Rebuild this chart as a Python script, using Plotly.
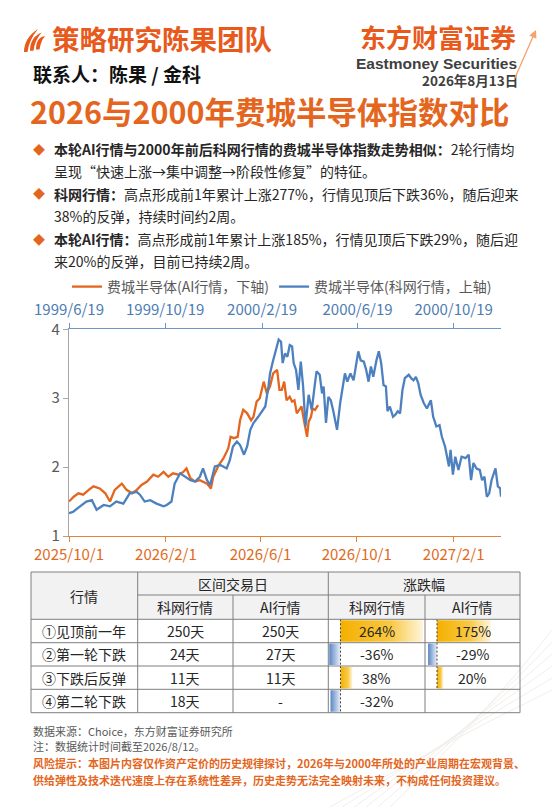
import plotly.graph_objects as go
import pandas as pd

W, H = 552, 807


def X(p):
    return p / W


def Y(p):
    return 1 - p / H


# ---------------- chart data ----------------
# AI行情 (bottom axis): calendar days since 2025-10-01 and index level
ai_start = "2025-10-01"
ai_days = [0, 6, 12, 18, 25, 31, 39, 46, 52, 58, 67, 73, 80, 86, 92, 99, 107, 113, 120, 126,
           132, 139, 145, 149, 154, 160, 166, 175, 180, 183, 190, 196, 202, 205, 209, 214, 217,
           221, 226, 231, 234, 238, 242, 247, 251, 255, 259, 264, 267, 270, 273, 276, 280, 283,
           286, 289, 292, 295, 298, 302, 304, 307, 309, 312, 316]
ai_vals = [1.50, 1.57, 1.62, 1.60, 1.67, 1.72, 1.69, 1.62, 1.50, 1.67, 1.76, 1.67, 1.62, 1.67,
           1.74, 1.79, 1.89, 1.86, 1.93, 1.86, 1.91, 1.89, 1.93, 1.98, 1.84, 1.79, 1.81, 1.76,
           1.69, 1.86, 2.03, 2.13, 2.27, 2.44, 2.42, 2.44, 2.68, 2.83, 2.78, 2.68, 2.73, 2.95,
           3.00, 3.24, 3.07, 3.17, 3.36, 3.41, 3.12, 3.12, 3.24, 2.97, 3.02, 2.95, 2.97, 2.78,
           2.83, 2.88, 2.68, 2.44, 2.66, 2.73, 2.85, 2.83, 2.90]

# 科网行情 (top axis): calendar days since 1999-06-19 and index level
kw_start = "1999-06-19"
kw_days = [0, 5, 14, 22, 29, 35, 44, 52, 60, 69, 77, 86, 90, 96, 103, 111, 120, 124, 130, 134,
           141, 147, 154, 160, 166, 170, 175, 179, 185, 192, 196, 200, 204, 208, 213, 217, 222,
           226, 230, 234, 240, 245, 249, 253, 255, 259, 264, 266, 269, 271, 274, 277, 280, 283,
           285, 288, 291, 294, 297, 300, 304, 308, 311, 314, 318, 321, 323, 326, 329, 332, 335,
           340, 344, 348, 350, 353, 357, 361, 364, 367, 370, 374, 377, 380, 383, 386, 390, 393,
           396, 399, 402, 404, 407, 411, 414, 417, 420, 423, 426, 431, 434, 437, 440, 443, 446,
           450, 454, 459, 462, 466, 470, 473, 477, 479, 482, 484, 487, 490, 494, 498, 503, 507,
           510, 513, 517, 521, 524, 527, 530, 533, 536, 541, 544, 547, 548]
kw_vals = [1.33, 1.35, 1.43, 1.50, 1.52, 1.38, 1.45, 1.43, 1.50, 1.47, 1.62, 1.64, 1.60, 1.50,
           1.52, 1.47, 1.43, 1.45, 1.50, 1.76, 1.91, 1.86, 1.81, 1.79, 1.86, 1.98, 1.81, 1.74,
           2.01, 2.03, 2.01, 1.98, 2.10, 2.30, 2.37, 2.32, 2.18, 2.30, 2.54, 2.64, 2.73, 2.81,
           2.88, 3.17, 3.36, 3.55, 3.75, 3.85, 3.82, 3.51, 3.65, 3.60, 3.77, 3.75, 3.51, 3.41,
           3.12, 3.53, 3.17, 2.59, 3.05, 2.83, 3.12, 3.39, 3.34, 3.07, 3.17, 2.64, 3.02, 2.97,
           2.83, 2.54, 2.93, 3.26, 3.36, 3.24, 3.36, 3.26, 3.51, 3.68, 3.55, 3.53, 3.41, 3.24,
           3.46, 3.31, 3.55, 3.68, 3.51, 3.19, 3.17, 2.81, 2.88, 2.73, 2.76, 2.81, 2.78, 3.12,
           3.29, 3.34, 3.29, 3.26, 3.31, 3.22, 3.05, 2.93, 2.85, 2.97, 2.73, 2.59, 2.61, 2.44,
           2.30, 2.20, 2.01, 2.25, 1.89, 2.15, 1.96, 2.15, 2.13, 2.18, 1.81, 2.06, 1.98, 1.96,
           1.81, 1.86, 1.57, 1.62, 1.81, 1.98, 1.72, 1.69, 1.57]

bottom_tickvals = ["2025-10-01", "2026-02-01", "2026-06-01", "2026-10-01", "2027-02-01"]
bottom_ticktext = ["2025/10/1", "2026/2/1", "2026/6/1", "2026/10/1", "2027/2/1"]
top_tickvals = ["1999-06-19", "1999-10-19", "2000-02-19", "2000-06-19", "2000-10-19"]
top_ticktext = ["1999/6/19", "1999/10/19", "2000/2/19", "2000/6/19", "2000/10/19"]
y_tickvals = [1, 2, 3, 4]

# ---------------- table data ----------------
row_labels = ["①见顶前一年", "②第一轮下跌", "③下跌后反弹", "④第二轮下跌"]
kw_trade_days = ["250天", "24天", "11天", "18天"]
ai_trade_days = ["250天", "27天", "11天", "-"]
kw_change = [264, -36, 38, -32]
ai_change = [175, -29, 20, None]

# ---------------- styles ----------------
FONT = "Noto Sans CJK SC"
ORANGE = "#E4661E"
BLUE = "#4C80BF"
HEAD_OR = "#E85A1C"
TXT = "#262626"
GRAY = "#595959"

fig = go.Figure()

kw_x = pd.Timestamp(kw_start) + pd.to_timedelta(kw_days, unit="D")
ai_x = pd.Timestamp(ai_start) + pd.to_timedelta(ai_days, unit="D")

fig.add_trace(go.Scatter(x=kw_x, y=kw_vals, xaxis="x2", yaxis="y", mode="lines",
                         line=dict(color=BLUE, width=2.3), name="费城半导体(科网行情，上轴)",
                         legendrank=2, hoverinfo="skip"))
fig.add_trace(go.Scatter(x=ai_x, y=ai_vals, xaxis="x", yaxis="y", mode="lines",
                         line=dict(color=ORANGE, width=2.3), name="费城半导体(AI行情，下轴)",
                         legendrank=1, hoverinfo="skip"))

# ---------------- table data bars ----------------
POS = [[0, "#F5B000"], [0.6, "#F8C842"], [1, "#FFF5DC"]]
NEG = [[0, "#5A86C6"], [1, "#EAF0F9"]]
for axis, vals in (("x3", kw_change), ("x4", ai_change)):
    dash_x, dash_y = [], []
    for i, v in enumerate(vals):
        if v is None:
            continue
        fig.add_trace(go.Scatter(
            x=[0, v, v, 0, 0], y=[i - 0.46, i - 0.46, i + 0.46, i + 0.46, i - 0.46],
            xaxis=axis, yaxis="y3", mode="lines", fill="toself", line=dict(width=0),
            fillgradient=dict(type="horizontal", colorscale=POS if v > 0 else NEG),
            showlegend=False, hoverinfo="skip"))
        dash_x += [0, 0, None]
        dash_y += [i - 0.5, i + 0.5, None]
    fig.add_trace(go.Scatter(x=dash_x, y=dash_y, xaxis=axis, yaxis="y3", mode="lines",
                             line=dict(color="#404040", width=1, dash="2px,2px"),
                             showlegend=False, hoverinfo="skip"))

# ---------------- table grid ----------------
cols = [31, 137.7, 233, 328.3, 425, 520]
rows = [572, 595, 619.3, 642.7, 666, 689.3, 712.7]
shapes = []
LC = "#7F7F7F"
shapes.append(dict(type="rect", xref="paper", yref="paper", x0=X(cols[0]), x1=X(cols[-1]),
                   y0=Y(rows[0]), y1=Y(rows[2]), fillcolor="#F2F2F2", line=dict(width=0),
                   layer="below"))
for ry in [rows[0]] + rows[2:]:
    shapes.append(dict(type="line", xref="paper", yref="paper", x0=X(cols[0]), x1=X(cols[-1]),
                       y0=Y(ry), y1=Y(ry), line=dict(color=LC, width=1)))
shapes.append(dict(type="line", xref="paper", yref="paper", x0=X(cols[1]), x1=X(cols[-1]),
                   y0=Y(rows[1]), y1=Y(rows[1]), line=dict(color=LC, width=1)))
for cx in [cols[0], cols[1], cols[3], cols[5]]:
    shapes.append(dict(type="line", xref="paper", yref="paper", x0=X(cx), x1=X(cx),
                       y0=Y(rows[0]), y1=Y(rows[-1]), line=dict(color=LC, width=1)))
for cx in [cols[2], cols[4]]:
    shapes.append(dict(type="line", xref="paper", yref="paper", x0=X(cx), x1=X(cx),
                       y0=Y(rows[1]), y1=Y(rows[-1]), line=dict(color=LC, width=1)))


# logo (three curved leaves)
def pth(points):
    s = "M %f,%f" % (X(points[0][0]), Y(points[0][1]))
    for k in range(1, len(points), 2):
        s += " Q %f,%f %f,%f" % (X(points[k][0]), Y(points[k][1]),
                                 X(points[k + 1][0]), Y(points[k + 1][1]))
    return s + " Z"


for dx in (0, 6, 12):
    shapes.append(dict(type="path", xref="paper", yref="paper",
                       path=pth([(24 + dx, 52 - dx * 0.2), (24 + dx, 38 - dx * 0.1),
                                 (38 + dx * 0.6, 29 + dx * 0.6),
                                 (29 + dx, 40), (27.5 + dx, 52 - dx * 0.2)]),
                       fillcolor=HEAD_OR, line=dict(width=0)))

# faint background decoration (light curves at lower right)
for k in range(6):
    shapes.append(dict(type="path", xref="paper", yref="paper", layer="below",
                       path="M %f,%f Q %f,%f %f,%f" % (X(330 + 12 * k), Y(807), X(450 + 8 * k), Y(740 - 6 * k),
                                                       X(552), Y(690 - 12 * k)),
                       line=dict(color="#F1EEEA", width=1)))

ann = []


def text(x, y, s, size, color=TXT, anchor="left", family=FONT):
    ann.append(dict(x=X(x), y=Y(y), xref="paper", yref="paper", text=s, showarrow=False,
                    xanchor=anchor, yanchor="middle",
                    font=dict(size=size, color=color, family=family)))


# header
text(50, 38, "<b>策略研究陈果团队</b>", 27.5, HEAD_OR)
text(31, 73, "<b>联系人：陈果 / 金科</b>", 19, "#111111")
text(518, 36.5, "<b>东方财富证券</b>", 26, HEAD_OR, "right")
text(519, 63.5, "<b>Eastmoney Securities</b>", 15.5, "#404040", "right", "Liberation Sans")
text(520, 80.5, "<b>2026年8月13日</b>", 13.5, "#404040", "right")
text(28, 111, "<b>2026与2000年费城半导体指数对比</b>", 30.5, ORANGE)
ann.append(dict(x=X(536), y=Y(30), xref="paper", yref="paper", text="", showarrow=True,
                ax=-22, ay=50, arrowcolor="#F4A36A", arrowwidth=1.3, arrowhead=2, arrowsize=1.2))

# bullets
BS = 14.0
bullets = [
    (149, "<b>本轮AI行情与2000年前后科网行情的费城半导体指数走势相似：</b>2轮行情均", True),
    (170.5, "呈现“快速上涨→集中调整→阶段性修复”的特征。", False),
    (194, "<b>科网行情：</b>高点形成前1年累计上涨277%，行情见顶后下跌36%，随后迎来", True),
    (215.5, "38%的反弹，持续时间约2周。", False),
    (239, "<b>本轮AI行情：</b>高点形成前1年累计上涨185%，行情见顶后下跌29%，随后迎", True),
    (260.5, "来20%的反弹，目前已持续2周。", False),
]
for by, s, dia in bullets:
    if dia:
        text(39, by, "◆", 12, ORANGE, "center")
    text(52, by, s, BS, TXT)

# table text
TS = 14
text((cols[0] + cols[1]) / 2, (rows[0] + rows[2]) / 2, "行情", TS, TXT, "center")
text((cols[1] + cols[3]) / 2, (rows[0] + rows[1]) / 2, "区间交易日", TS, TXT, "center")
text((cols[3] + cols[5]) / 2, (rows[0] + rows[1]) / 2, "涨跌幅", TS, TXT, "center")
for j, s in enumerate(["科网行情", "AI行情", "科网行情", "AI行情"]):
    text((cols[j + 1] + cols[j + 2]) / 2, (rows[1] + rows[2]) / 2, s, TS, TXT, "center")
for i in range(4):
    cy = (rows[i + 2] + rows[i + 3]) / 2
    text((cols[0] + cols[1]) / 2, cy, row_labels[i], TS, TXT, "center")
    text((cols[1] + cols[2]) / 2, cy, kw_trade_days[i], TS, TXT, "center")
    text((cols[2] + cols[3]) / 2, cy, ai_trade_days[i], TS, TXT, "center")
    text((cols[3] + cols[4]) / 2, cy, "%d%%" % kw_change[i], TS, TXT, "center")
    if ai_change[i] is not None:
        text((cols[4] + cols[5]) / 2, cy, "%d%%" % ai_change[i], TS, TXT, "center")

# footer
text(31, 731, "数据来源：Choice，东方财富证券研究所", 11, GRAY)
text(31, 746, "注：数据统计时间截至2026/8/12。", 11, GRAY)
text(31, 763, "<b>风险提示：本图片内容仅作资产定价的历史规律探讨，2026年与2000年所处的产业周期在宏观背景、</b>", 11, ORANGE)
text(31, 780, "<b>供给弹性及技术迭代速度上存在系统性差异，历史走势无法完全映射未来，不构成任何投资建议。</b>", 11, ORANGE)

axis_common = dict(showgrid=False, zeroline=False, ticks="outside", ticklen=5, showline=True,
                   fixedrange=True)
fig.update_layout(
    width=W, height=H, margin=dict(l=0, r=0, t=0, b=0, autoexpand=False),
    paper_bgcolor="white", plot_bgcolor="rgba(0,0,0,0)",
    font=dict(family=FONT, color=TXT),
    xaxis=dict(domain=[X(69), X(501)], anchor="y", type="date",
               range=["2025-10-01", "2027-04-02"], tickvals=bottom_tickvals, ticktext=bottom_ticktext,
               linecolor="#E8803A", linewidth=1.3, tickcolor="#E8803A",
               tickfont=dict(size=15, color="#E06A22"), **axis_common),
    xaxis2=dict(domain=[X(69), X(501)], overlaying="x", side="top", anchor="y", type="date",
                range=["1999-06-19", "2000-12-18"], tickvals=top_tickvals, ticktext=top_ticktext,
                linecolor="#6A98CC", linewidth=1.3, tickcolor="#6A98CC", ticklabelstandoff=2,
                tickfont=dict(size=15, color="#4E7DB3"), **axis_common),
    yaxis=dict(domain=[Y(536), Y(329.3)], anchor="x", range=[1, 4], tickvals=y_tickvals,
               linecolor="#A6A6A6", linewidth=1.3, tickcolor="#A6A6A6",
               tickfont=dict(size=15, color=GRAY), **axis_common),
    xaxis3=dict(domain=[X(cols[3]), X(cols[4])], anchor="y3", range=[-39, 270], visible=False,
                fixedrange=True),
    xaxis4=dict(domain=[X(cols[4]), X(cols[5])], anchor="y3", range=[-39, 270], visible=False,
                fixedrange=True),
    yaxis3=dict(domain=[Y(rows[-1]), Y(rows[2])], anchor="x3", range=[3.5, -0.5], visible=False,
                fixedrange=True),
    legend=dict(orientation="h", x=X(67), y=Y(271), xanchor="left", yanchor="top",
                font=dict(size=14, color=GRAY), bgcolor="rgba(0,0,0,0)", itemwidth=30,
                traceorder="normal"),
    shapes=shapes, annotations=ann,
)

fig.write_html("out.html", config={"displayModeBar": False},
               post_script="document.body.style.margin='0';document.body.style.overflow='hidden';")
